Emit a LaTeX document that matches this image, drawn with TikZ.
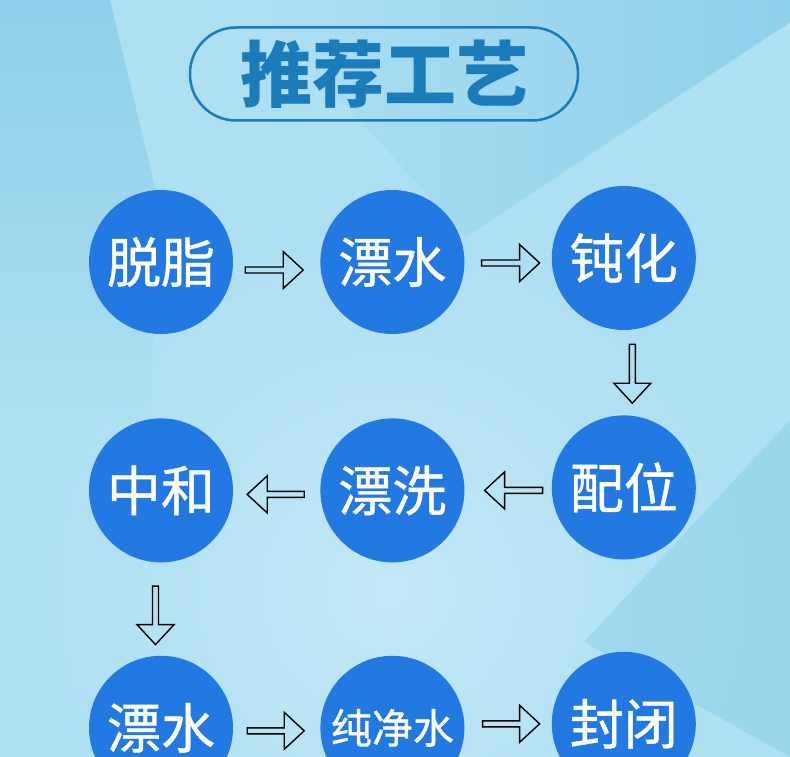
\documentclass[tikz,border=0pt]{standalone}
\usepackage{fontspec}
\usepackage{tikz}
\usetikzlibrary{positioning, calc}
\newfontfamily\cjk{Noto Sans CJK SC}
\newfontfamily\cjkmid[FakeBold=0.8]{Noto Sans CJK SC}
\definecolor{bgbase}{HTML}{AEDFF2}
\definecolor{bglight}{HTML}{C2E9F6}
\definecolor{bgdark}{HTML}{8CCFEA}
\definecolor{circblue}{HTML}{2279E2}
\definecolor{titleblue}{HTML}{1A7CBA}

\begin{document}
\begin{tikzpicture}[
    x=1pt, y=1pt,
    stepcircle/.style={circle, fill=circblue, minimum size=144pt, inner sep=0pt, text=white, font=\cjkmid\fontsize{54}{54}\selectfont},
    titlebox/.style={rectangle, draw=titleblue, line width=2.5pt, rounded corners=46pt, minimum width=388pt, minimum height=93pt, text=titleblue, font=\cjk\bfseries\fontsize{72}{72}\selectfont},
    blockarrow/.style={draw=black, line width=1.4pt, line join=miter, to path={
        let \p1=(\tikztostart), \p2=(\tikztotarget),
            \n1={atan2(\y2-\y1,\x2-\x1)}, \n2={veclen(\x2-\x1,\y2-\y1)} in
        ($(\p1)+(\n1+90:3)$) -- ($(\p1)+(\n1:{\n2-20})+(\n1+90:3)$)
        -- ($(\p1)+(\n1:{\n2-20})+(\n1+90:18.5)$) -- (\p2)
        -- ($(\p1)+(\n1:{\n2-20})+(\n1-90:18.5)$) -- ($(\p1)+(\n1:{\n2-20})+(\n1-90:3)$)
        -- ($(\p1)+(\n1-90:3)$) -- cycle}}
]
    % background
    \useasboundingbox (0,0) rectangle (790,-757);
    \clip (0,0) rectangle (790,-757);
    \fill[bgbase] (0,0) rectangle (790,-757);
    \shade[inner color=bglight, outer color=bgbase] (390,-590) circle (360);
    \shade[top color=bgdark, bottom color=bgbase, opacity=0.9] (0,0) -- (110,0) -- (158,-200) -- (150,-420) -- (0,-420) -- cycle;
    \shade[left color=bgbase, right color=bgdark, opacity=0.9] (466,-237) -- (790,-22) -- (790,0) -- (250,0) -- cycle;
    \shade[top color=bgdark, bottom color=bgdark, opacity=0.5] (584,-642) -- (790,-757) -- (790,-420) -- cycle;

    % title
    \node[titlebox] (title) at (384,-74) {推荐工艺};

    % steps
    \node[stepcircle] (p1) at (161,-262) {脱脂};
    \node[stepcircle, right=87pt of p1] (p2) {漂水};
    \node[stepcircle, right=87pt of p2, yshift=4pt] (p3) {钝化};
    \node[stepcircle, below=85pt of p3] (p4) {配位};
    \node[stepcircle, left=87pt of p4, yshift=-3pt] (p5) {漂洗};
    \node[stepcircle, left=87pt of p5] (p6) {中和};
    \node[stepcircle, below=93pt of p6] (p7) {漂水};
    \node[stepcircle, right=87pt of p7] (p8) {\fontsize{41}{41}\selectfont 纯净水};
    \node[stepcircle, right=87pt of p8, yshift=4pt] (p9) {封闭};

    % arrows
    \draw[blockarrow] ([xshift=12pt,yshift=-8pt]p1.east) to ([xshift=-17pt,yshift=-8pt]p2.west);
    \draw[blockarrow] ([xshift=17pt,yshift=-1pt]p2.east) to ([xshift=-12pt,yshift=-5pt]p3.west);
    \draw[blockarrow] ([xshift=8.5pt,yshift=-14pt]p3.south) to ([xshift=8.5pt,yshift=12pt]p4.north);
    \draw[blockarrow] ([xshift=-9pt,yshift=-3pt]p4.west) to ([xshift=20pt]p5.east);
    \draw[blockarrow] ([xshift=-16pt,yshift=-4pt]p5.west) to ([xshift=14pt,yshift=-4pt]p6.east);
    \draw[blockarrow] ([xshift=-5.5pt,yshift=-23.5pt]p6.south) to ([xshift=-5.5pt,yshift=11pt]p7.north);
    \draw[blockarrow] ([xshift=14pt,yshift=-3pt]p7.east) to ([xshift=-16pt,yshift=-3pt]p8.west);
    \draw[blockarrow] ([xshift=18pt,yshift=4pt]p8.east) to ([xshift=-12pt]p9.west);
\end{tikzpicture}
\end{document}
